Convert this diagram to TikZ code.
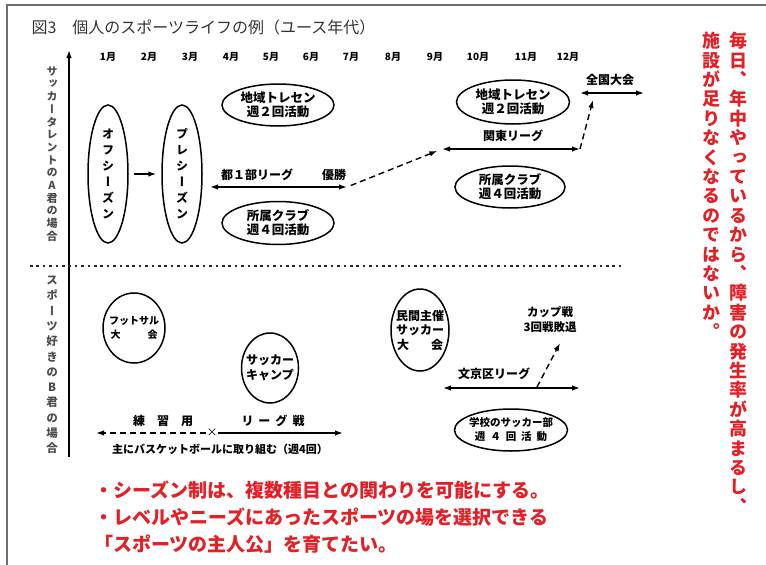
\documentclass[tikz,border=0pt]{standalone}
\usepackage{fontspec}
\setmainfont{Noto Sans CJK JP}
\newfontfamily\tatefont[RawFeature=+vert]{Noto Sans CJK JP}
\usepackage{tikz}
\usetikzlibrary{shapes, arrows, arrows.meta}
\definecolor{rulegray}{RGB}{110,110,110}
\definecolor{notered}{RGB}{226,32,38}
\makeatletter
% stack the characters of #1 one under the other
\newcommand{\tate}[1]{\vbox{\@tfor\tatech:=#1\do{\hbox to 1em{\hss\tatech\hss}}}}
\makeatother
\tikzstyle{heading} = [anchor=west, text=black!80, font=\fontsize{16}{18}\selectfont]
\tikzstyle{month} = [font=\bfseries\fontsize{10}{12}\selectfont]
\tikzstyle{lbl} = [inner sep=1pt, align=center, font=\bfseries\fontsize{12}{14}\selectfont]
\tikzstyle{side} = [inner sep=0pt, text=black!70, font=\tatefont\bfseries\fontsize{11}{12.7}\selectfont]
\tikzstyle{oval} = [ellipse, draw, line width=1.5pt, inner sep=0pt, align=center, font=\bfseries\fontsize{12.5}{14}\selectfont]
\tikzstyle{season} = [oval, minimum width=40pt, minimum height=138pt, font=\tatefont\bfseries\fontsize{12}{16}\selectfont]
\tikzstyle{round} = [oval, inner xsep=-5pt, font=\bfseries\fontsize{12}{14.5}\selectfont]
\tikzstyle{line} = [draw, line width=1.4pt, -{Latex[length=8pt, width=5.5pt]}]
\tikzstyle{both} = [draw, line width=1.4pt, {Latex[length=8pt, width=5.5pt]}-{Latex[length=8pt, width=5.5pt]}]
\tikzstyle{dashline} = [line, dash pattern=on 6pt off 4pt]
\tikzstyle{divider} = [draw, black!85, line width=2.6pt, dash pattern=on 2.6pt off 3.8pt]
\tikzstyle{remark} = [inner sep=0pt, text=notered, align=left, font=\bfseries\fontsize{19}{27}\selectfont]
\tikzstyle{remarkv} = [anchor=north, inner sep=0pt, text=notered, font=\tatefont\bfseries\fontsize{18}{19.4}\selectfont]
\begin{document}
\begin{tikzpicture}[x=1pt, y=-1pt, node distance=74pt, auto]
    \useasboundingbox (0,0) rectangle (766,565);
    \draw[rulegray, line width=2pt] (7,565) -- (7,5) -- (766,5);

    \node[heading] (title) at (28,27) {図3　個人のスポーツライフの例（ユース年代）};

    % months
    \foreach \m/\x in {1/108,2/149,3/190,4/231,5/271,6/311,7/351,8/393,9/435,10/478,11/526,12/568}
        \node[month] (m\m) at (\x,57) {\m 月};

    % axis and divider
    \coordinate (axisbot) at (69,457);
    \coordinate (axistop) at (69,50);
    \path[line] (axisbot) -- (axistop);
    \coordinate (divl) at (30,266);
    \coordinate (divr) at (625,266);
    \path[divider] (divl) -- (divr);
    \node[side] (akun) at (52,154) {\tate{サッカータレントのA君の場合}};
    \node[side, font=\tatefont\bfseries\fontsize{11.5}{15.3}\selectfont] (bkun) at (52,365) {\tate{スポーツ好きのB君の場合}};

    % A
    \node[season] (off) at (108,174) {\tate{オフシーズン}};
    \node[season, right of=off] (pre) {\tate{プレシーズン}};
    \path[line, shorten <=5pt, shorten >=5pt] (off) -- (pre);

    \node[oval, minimum width=112pt, minimum height=42pt] (tore1) at (278,105) {地域トレセン\\週２回活動};
    \node[oval, minimum width=112pt, minimum height=43pt, below of=tore1, node distance=118pt] (club1) {所属クラブ\\週４回活動};

    \coordinate (to1a) at (210,187);
    \coordinate (to1b) at (347,187);
    \path[both] (to1a) -- (to1b);
    \node[lbl] (tobu) at (257,175) {都１部リーグ};
    \node[lbl] (win) at (334,175) {優勝};

    \coordinate (kt1a) at (442,149);
    \coordinate (kt1b) at (580,149);
    \path[both] (kt1a) -- (kt1b);
    \node[lbl] (kanto) at (513,136) {関東リーグ};
    \path[dashline, shorten <=4pt, shorten >=5pt] (to1b) -- (kt1a);

    \node[oval, minimum width=113pt, minimum height=44pt] (tore2) at (513,102) {地域トレセン\\週２回活動};
    \node[oval, minimum width=110pt, minimum height=42pt] (club2) at (510,187) {所属クラブ\\週４回活動};

    \coordinate (zk1a) at (580,93);
    \coordinate (zk1b) at (644,93);
    \path[both] (zk1a) -- (zk1b);
    \node[lbl] (zenkoku) at (610,80) {全国大会};
    \coordinate (zkin) at (593,100);
    \path[dashline] (kt1b) -- (zkin);

    % B
    \node[round, minimum width=62pt, minimum height=70pt, font=\bfseries\fontsize{10}{14}\selectfont] (futsal) at (134,328) {フットサル\\大\hspace{27pt}会};
    \node[round, minimum width=57pt, minimum height=70pt] (camp) at (270,368) {サッカー\\キャンプ};
    \node[round, minimum width=58pt, minimum height=82pt] (minkan) at (420,330) {民間主催\\サッカー\\大\hspace{22pt}会};

    \node[lbl, font=\bfseries\fontsize{11.5}{15}\selectfont] (cup) at (550,320) {カップ戦\\3回戦敗退};
    \coordinate (bk1a) at (443,388);
    \coordinate (bk1b) at (580,388);
    \path[both] (bk1a) -- (bk1b);
    \node[lbl] (bunkyo) at (494,374) {文京区リーグ};
    \coordinate (cupfoot) at (537,387);
    \coordinate (cuptip) at (560,343);
    \path[dashline] (cupfoot) -- (cuptip);
    \node[oval, inner xsep=-3pt, minimum width=113pt, minimum height=42pt, font=\bfseries\fontsize{10.5}{14}\selectfont] (school) at (511,430) {学校のサッカー部\\週\hspace{5pt}４\hspace{5pt}回\hspace{5pt}活\hspace{5pt}動};

    \node[lbl, inner sep=0pt, font=\fontsize{11}{12}\selectfont] (cross) at (212,433) {×};
    \coordinate (bl) at (96,433);
    \coordinate (br) at (343,433);
    \path[dashline] (cross) -- (bl);
    \path[line] (cross) -- (br);
    \node[lbl] (practice) at (163,421) {練　習　用};
    \node[lbl] (league) at (273,421) {リ\hspace{5pt}ー\hspace{5pt}グ\hspace{5pt}戦};
    \node[lbl, font=\bfseries\fontsize{11}{13}\selectfont] (basket) at (220,449) {主にバスケットボールに取り組む（週4回）};

    % red notes
    \node[remark, anchor=north west] (notes) at (94,481) {・シーズン制は、複数種目との関わりを可能にする。\\・レベルやニーズにあったスポーツの場を選択できる\\「スポーツの主人公」を育てたい。};
    \node[remarkv] (col1) at (738,32) {\tate{毎日、年中やっているから、障害の発生率が高まるし、}};
    \node[remarkv] (col2) at (711,32) {\tate{施設が足りなくなるのではないか。}};
\end{tikzpicture}
\end{document}
